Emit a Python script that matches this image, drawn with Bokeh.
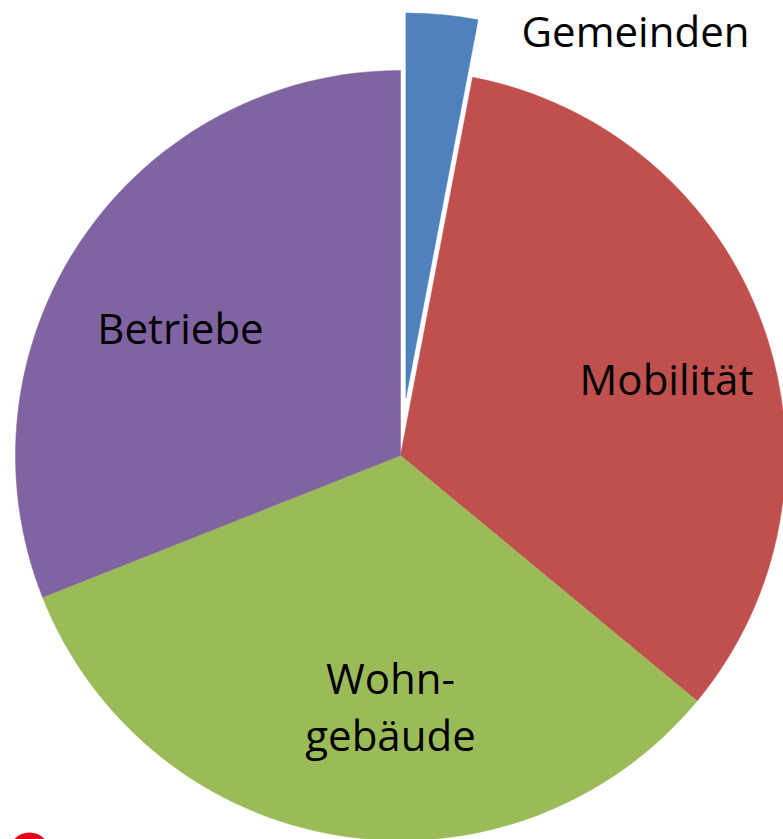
import numpy as np
from bokeh.plotting import figure
from bokeh.models import Range1d, ColumnDataSource
from bokeh.core.properties import value
from bokeh.embed import file_html
from bokeh.resources import INLINE

# Data
categories = ["Gemeinden", "Mobilität", "Wohngebäude", "Betriebe"]
shares = [3, 33, 33, 31]
label_texts = ["Gemeinden", "Mobilität", "Wohn-\ngebäude", "Betriebe"]

# Style / layout
colors = ["#4F81BD", "#C0504D", "#9BBB59", "#8064A2"]
explode = [0.15, 0.0, 0.0, 0.0]
W, H = 783, 839
cx, cy = 400, H - 455
R = 385
label_pos = [(635, H - 30), (666, H - 378), (390, H - 705), (180, H - 327)]

vals = np.array(shares, dtype=float)
frac = vals / vals.sum()
cum = np.concatenate([[0], np.cumsum(frac)])
start = np.pi / 2 - 2 * np.pi * cum[1:]
end = np.pi / 2 - 2 * np.pi * cum[:-1]
mid = (start + end) / 2
ex = np.array(explode) * R
xs = cx + ex * np.cos(mid)
ys = cy + ex * np.sin(mid)

src = ColumnDataSource(dict(x=xs, y=ys, start=start, end=end, color=colors, cat=categories))

p = figure(width=W, height=H, x_range=Range1d(0, W), y_range=Range1d(0, H),
           output_backend="svg", toolbar_location=None, min_border=0)
p.axis.visible = False
p.grid.visible = False
p.outline_line_color = None
p.background_fill_color = "white"

p.wedge(x="x", y="y", radius=R, start_angle="start", end_angle="end",
        fill_color="color", line_color="color", line_width=0.5, source=src)

# decorative logo fragment at the bottom-left
p.scatter(x=[29], y=[H - 853], size=42, marker="circle", fill_color="#E2001A", line_color=None)

lx = [pt[0] for pt in label_pos]
ly = [pt[1] for pt in label_pos]
p.text(x=lx, y=ly, text=label_texts, text_font=value("Open Sans"),
       text_font_size="42px", text_align="center", text_baseline="middle",
       text_color="black", text_line_height=1.0)

open("out.html", "w").write(file_html(p, INLINE))
